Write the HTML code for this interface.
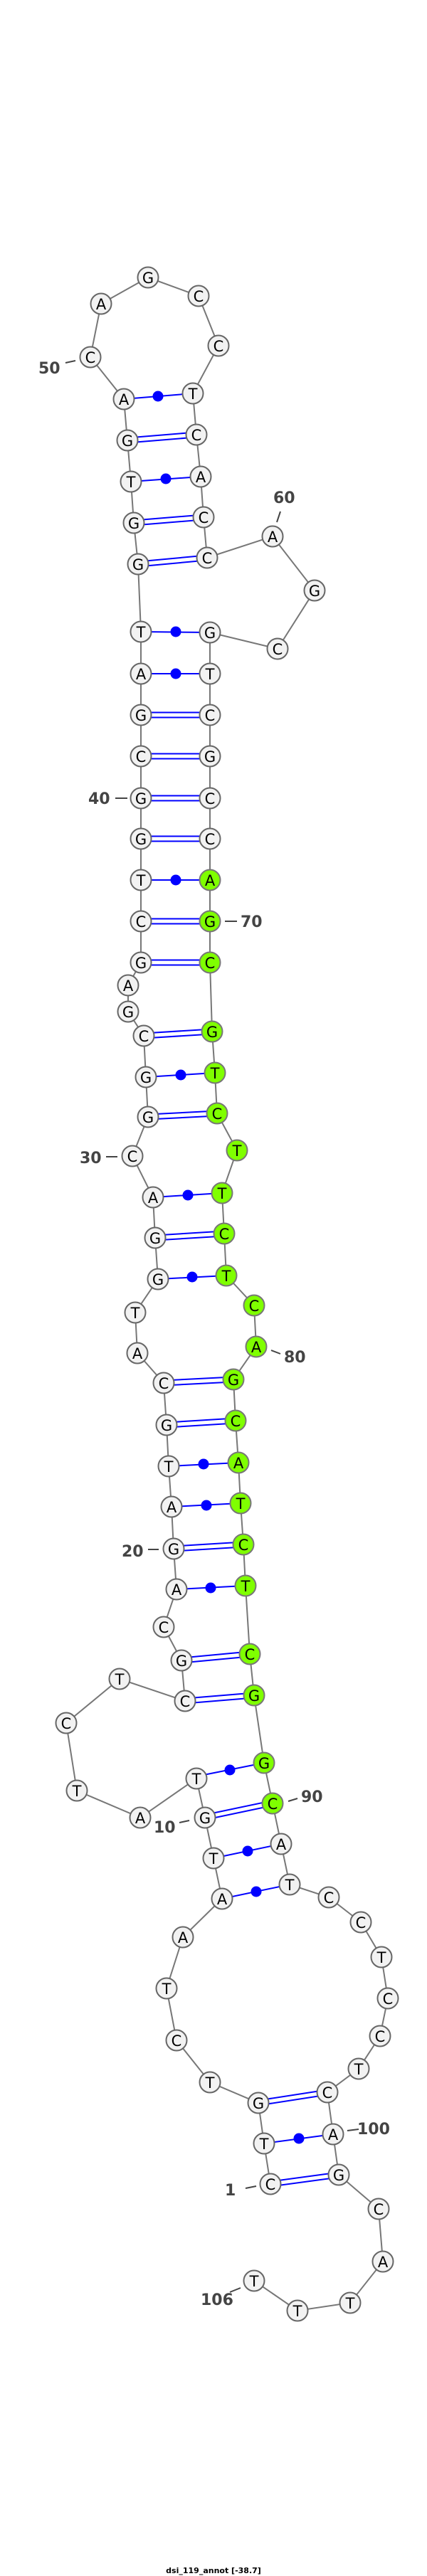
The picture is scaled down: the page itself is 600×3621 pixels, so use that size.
<!DOCTYPE html>
<html><head><meta charset="utf-8"><style>
html,body{margin:0;padding:0;background:#fff}
svg{display:block}
.n{fill:#f2f2f2;stroke:#666;stroke-width:2}
.g{fill:#7fff00;stroke:#777;stroke-width:2}
.t{font-family:"DejaVu Sans","Liberation Sans",sans-serif;font-size:21px;text-anchor:middle;fill:#000}
.l{font-family:"DejaVu Sans","Liberation Sans",sans-serif;font-size:22px;font-weight:bold;fill:#444}
.p{stroke:#0000ff;stroke-width:2;fill:none}
.k{stroke:#444;stroke-width:2}
</style></head><body>
<svg width="600" height="3621" viewBox="0 0 600 3621" xmlns="http://www.w3.org/2000/svg">
<polyline fill="none" stroke="#777" stroke-width="2" points="380,3070 371,3013 363,2956 295,2927 248,2868 234,2795 257,2723 312,2669 300,2612 288,2555 276,2500 197,2555 108,2517 93,2422 168,2360 260,2391 255,2334 230,2287 248,2234 244,2177 241,2118 237,2061 234,2003 230,1944 193,1902 190,1845 222,1798 218,1740 215,1683 186,1625 208,1570 205,1514 202,1456 180,1422 180,1385 198,1353 198,1295 198,1237 198,1179 198,1122 198,1063 198,1005 198,947 198,888 194,793 188,735 184,677 179,619 174,561 127,502 142,427 208,390 279,416 307,486 271,553 276,611 282,670 286,727 291,784 383,754 442,830 390,912 295,889 295,947 295,1005 295,1063 295,1122 295,1179 295,1237 295,1295 295,1353 298,1450 302,1508 305,1565 333,1617 312,1677 315,1734 318,1793 357,1835 360,1893 328,1939 331,1997 335,2056 338,2113 342,2171 345,2229 351,2325 357,2383 371,2478 383,2535 395,2592 407,2649 462,2667 507,2702 536,2751 545,2809 534,2862 504,2908 460,2941 468,3000 476,3057 532,3105 538,3179 492,3237 418,3248 357,3206"/>
<g class="p">
<!-- double pairs -->
<line x1="380" y1="3066.5" x2="476" y2="3053.5"/><line x1="380" y1="3073.5" x2="476" y2="3060.5"/>
<line x1="363" y1="2952.5" x2="460" y2="2937.5"/><line x1="363" y1="2959.5" x2="460" y2="2944.5"/>
<line x1="288" y1="2551" x2="383" y2="2531"/><line x1="288" y1="2558" x2="383" y2="2538"/>
<line x1="260" y1="2387.5" x2="357" y2="2379.5"/><line x1="260" y1="2394.5" x2="357" y2="2386.5"/>
<line x1="255" y1="2330.5" x2="351" y2="2321.5"/><line x1="255" y1="2337.5" x2="351" y2="2328.5"/>
<line x1="244" y1="2173.5" x2="342" y2="2167.5"/><line x1="244" y1="2180.5" x2="342" y2="2174.5"/>
<line x1="234" y1="1999.5" x2="331" y2="1993.5"/><line x1="234" y1="2006.5" x2="331" y2="2000.5"/>
<line x1="230" y1="1940.5" x2="328" y2="1935.5"/><line x1="230" y1="1947.5" x2="328" y2="1942.5"/>
<line x1="218" y1="1736.5" x2="315" y2="1730.5"/><line x1="218" y1="1743.5" x2="315" y2="1737.5"/>
<line x1="208" y1="1566.5" x2="305" y2="1561.5"/><line x1="208" y1="1573.5" x2="305" y2="1568.5"/>
<line x1="202" y1="1452.5" x2="298" y2="1446.5"/><line x1="202" y1="1459.5" x2="298" y2="1453.5"/>
<line x1="198" y1="1349.5" x2="295" y2="1349.5"/><line x1="198" y1="1356.5" x2="295" y2="1356.5"/>
<line x1="198" y1="1291.5" x2="295" y2="1291.5"/><line x1="198" y1="1298.5" x2="295" y2="1298.5"/>
<line x1="198" y1="1175.5" x2="295" y2="1175.5"/><line x1="198" y1="1182.5" x2="295" y2="1182.5"/>
<line x1="198" y1="1118.5" x2="295" y2="1118.5"/><line x1="198" y1="1125.5" x2="295" y2="1125.5"/>
<line x1="198" y1="1059.5" x2="295" y2="1059.5"/><line x1="198" y1="1066.5" x2="295" y2="1066.5"/>
<line x1="198" y1="1001.5" x2="295" y2="1001.5"/><line x1="198" y1="1008.5" x2="295" y2="1008.5"/>
<line x1="194" y1="789.5" x2="291" y2="780.5"/><line x1="194" y1="796.5" x2="291" y2="787.5"/>
<line x1="188" y1="731.5" x2="286" y2="723.5"/><line x1="188" y1="738.5" x2="286" y2="730.5"/>
<line x1="179" y1="615.5" x2="276" y2="607.5"/><line x1="179" y1="622.5" x2="276" y2="614.5"/>
<!-- single pairs -->
<line x1="371" y1="3013" x2="468" y2="3000"/>
<line x1="312" y1="2669" x2="407" y2="2649"/>
<line x1="300" y1="2612" x2="395" y2="2592"/>
<line x1="276" y1="2497" x2="371" y2="2478"/>
<line x1="248" y1="2234" x2="345" y2="2229"/>
<line x1="241" y1="2118" x2="338" y2="2113"/>
<line x1="237" y1="2061" x2="335" y2="2056"/>
<line x1="222" y1="1798" x2="318" y2="1793"/>
<line x1="215" y1="1683" x2="312" y2="1677"/>
<line x1="205" y1="1514" x2="302" y2="1508"/>
<line x1="198" y1="1237" x2="295" y2="1237"/>
<line x1="198" y1="947" x2="295" y2="947"/>
<line x1="198" y1="888" x2="295" y2="889"/>
<line x1="184" y1="677" x2="282" y2="670"/>
<line x1="174" y1="561" x2="271" y2="553"/>
</g>
<g fill="#0000ff">
<circle cx="420" cy="3006" r="7.5"/><circle cx="360" cy="2659" r="7.5"/><circle cx="348" cy="2602" r="7.5"/><circle cx="323" cy="2488" r="7.5"/>
<circle cx="296" cy="2232" r="7.5"/><circle cx="290" cy="2116" r="7.5"/><circle cx="286" cy="2058" r="7.5"/><circle cx="270" cy="1795" r="7.5"/>
<circle cx="264" cy="1680" r="7.5"/><circle cx="254" cy="1511" r="7.5"/><circle cx="247" cy="1237" r="7.5"/><circle cx="247" cy="947" r="7.5"/>
<circle cx="247" cy="888" r="7.5"/><circle cx="233" cy="673" r="7.5"/><circle cx="222" cy="557" r="7.5"/>
</g>
<!-- number labels -->
<g class="k">
<line x1="92" y1="510" x2="106" y2="507"/><line x1="394" y1="719" x2="389" y2="734"/><line x1="162" y1="1122" x2="179" y2="1122"/>
<line x1="316" y1="1295" x2="333" y2="1295"/><line x1="149" y1="1626" x2="165" y2="1626"/><line x1="381" y1="1898" x2="394" y2="1903"/>
<line x1="208" y1="2178" x2="223" y2="2178"/><line x1="252" y1="2562" x2="266" y2="2559"/><line x1="405" y1="2532" x2="418" y2="2528"/>
<line x1="488" y1="2995" x2="504" y2="2993"/><line x1="345" y1="3076" x2="360" y2="3073"/><line x1="323" y1="3222" x2="338" y2="3216"/>
</g>
<g class="l">
<text x="54" y="525">50</text><text x="384" y="707">60</text><text x="124" y="1130">40</text><text x="338" y="1303">70</text>
<text x="112" y="1635">30</text><text x="399" y="1915">80</text><text x="171" y="2188">20</text><text x="216" y="2576">10</text>
<text x="423" y="2533">90</text><text x="502" y="3000">100</text><text x="316" y="3086">1</text><text x="282" y="3240">106</text>
</g>
<!-- nodes -->
<g>
<circle class="n" cx="380" cy="3070" r="14.5"/><text class="t" x="380" y="3078">C</text>
<circle class="n" cx="371" cy="3013" r="14.5"/><text class="t" x="371" y="3021">T</text>
<circle class="n" cx="363" cy="2956" r="14.5"/><text class="t" x="363" y="2964">G</text>
<circle class="n" cx="295" cy="2927" r="14.5"/><text class="t" x="295" y="2935">T</text>
<circle class="n" cx="248" cy="2868" r="14.5"/><text class="t" x="248" y="2876">C</text>
<circle class="n" cx="234" cy="2795" r="14.5"/><text class="t" x="234" y="2803">T</text>
<circle class="n" cx="257" cy="2723" r="14.5"/><text class="t" x="257" y="2731">A</text>
<circle class="n" cx="312" cy="2669" r="14.5"/><text class="t" x="312" y="2677">A</text>
<circle class="n" cx="300" cy="2612" r="14.5"/><text class="t" x="300" y="2620">T</text>
<circle class="n" cx="288" cy="2555" r="14.5"/><text class="t" x="288" y="2563">G</text>
<circle class="n" cx="276" cy="2500" r="14.5"/><text class="t" x="276" y="2508">T</text>
<circle class="n" cx="197" cy="2555" r="14.5"/><text class="t" x="197" y="2563">A</text>
<circle class="n" cx="108" cy="2517" r="14.5"/><text class="t" x="108" y="2525">T</text>
<circle class="n" cx="93" cy="2422" r="14.5"/><text class="t" x="93" y="2430">C</text>
<circle class="n" cx="168" cy="2360" r="14.5"/><text class="t" x="168" y="2368">T</text>
<circle class="n" cx="260" cy="2391" r="14.5"/><text class="t" x="260" y="2399">C</text>
<circle class="n" cx="255" cy="2334" r="14.5"/><text class="t" x="255" y="2342">G</text>
<circle class="n" cx="230" cy="2287" r="14.5"/><text class="t" x="230" y="2295">C</text>
<circle class="n" cx="248" cy="2234" r="14.5"/><text class="t" x="248" y="2242">A</text>
<circle class="n" cx="244" cy="2177" r="14.5"/><text class="t" x="244" y="2185">G</text>
<circle class="n" cx="241" cy="2118" r="14.5"/><text class="t" x="241" y="2126">A</text>
<circle class="n" cx="237" cy="2061" r="14.5"/><text class="t" x="237" y="2069">T</text>
<circle class="n" cx="234" cy="2003" r="14.5"/><text class="t" x="234" y="2011">G</text>
<circle class="n" cx="230" cy="1944" r="14.5"/><text class="t" x="230" y="1952">C</text>
<circle class="n" cx="193" cy="1902" r="14.5"/><text class="t" x="193" y="1910">A</text>
<circle class="n" cx="190" cy="1845" r="14.5"/><text class="t" x="190" y="1853">T</text>
<circle class="n" cx="222" cy="1798" r="14.5"/><text class="t" x="222" y="1806">G</text>
<circle class="n" cx="218" cy="1740" r="14.5"/><text class="t" x="218" y="1748">G</text>
<circle class="n" cx="215" cy="1683" r="14.5"/><text class="t" x="215" y="1691">A</text>
<circle class="n" cx="186" cy="1625" r="14.5"/><text class="t" x="186" y="1633">C</text>
<circle class="n" cx="208" cy="1570" r="14.5"/><text class="t" x="208" y="1578">G</text>
<circle class="n" cx="205" cy="1514" r="14.5"/><text class="t" x="205" y="1522">G</text>
<circle class="n" cx="202" cy="1456" r="14.5"/><text class="t" x="202" y="1464">C</text>
<circle class="n" cx="180" cy="1422" r="14.5"/><text class="t" x="180" y="1430">G</text>
<circle class="n" cx="180" cy="1385" r="14.5"/><text class="t" x="180" y="1393">A</text>
<circle class="n" cx="198" cy="1353" r="14.5"/><text class="t" x="198" y="1361">G</text>
<circle class="n" cx="198" cy="1295" r="14.5"/><text class="t" x="198" y="1303">C</text>
<circle class="n" cx="198" cy="1237" r="14.5"/><text class="t" x="198" y="1245">T</text>
<circle class="n" cx="198" cy="1179" r="14.5"/><text class="t" x="198" y="1187">G</text>
<circle class="n" cx="198" cy="1122" r="14.5"/><text class="t" x="198" y="1130">G</text>
<circle class="n" cx="198" cy="1063" r="14.5"/><text class="t" x="198" y="1071">C</text>
<circle class="n" cx="198" cy="1005" r="14.5"/><text class="t" x="198" y="1013">G</text>
<circle class="n" cx="198" cy="947" r="14.5"/><text class="t" x="198" y="955">A</text>
<circle class="n" cx="198" cy="888" r="14.5"/><text class="t" x="198" y="896">T</text>
<circle class="n" cx="194" cy="793" r="14.5"/><text class="t" x="194" y="801">G</text>
<circle class="n" cx="188" cy="735" r="14.5"/><text class="t" x="188" y="743">G</text>
<circle class="n" cx="184" cy="677" r="14.5"/><text class="t" x="184" y="685">T</text>
<circle class="n" cx="179" cy="619" r="14.5"/><text class="t" x="179" y="627">G</text>
<circle class="n" cx="174" cy="561" r="14.5"/><text class="t" x="174" y="569">A</text>
<circle class="n" cx="127" cy="502" r="14.5"/><text class="t" x="127" y="510">C</text>
<circle class="n" cx="142" cy="427" r="14.5"/><text class="t" x="142" y="435">A</text>
<circle class="n" cx="208" cy="390" r="14.5"/><text class="t" x="208" y="398">G</text>
<circle class="n" cx="279" cy="416" r="14.5"/><text class="t" x="279" y="424">C</text>
<circle class="n" cx="307" cy="486" r="14.5"/><text class="t" x="307" y="494">C</text>
<circle class="n" cx="271" cy="553" r="14.5"/><text class="t" x="271" y="561">T</text>
<circle class="n" cx="276" cy="611" r="14.5"/><text class="t" x="276" y="619">C</text>
<circle class="n" cx="282" cy="670" r="14.5"/><text class="t" x="282" y="678">A</text>
<circle class="n" cx="286" cy="727" r="14.5"/><text class="t" x="286" y="735">C</text>
<circle class="n" cx="291" cy="784" r="14.5"/><text class="t" x="291" y="792">C</text>
<circle class="n" cx="383" cy="754" r="14.5"/><text class="t" x="383" y="762">A</text>
<circle class="n" cx="442" cy="830" r="14.5"/><text class="t" x="442" y="838">G</text>
<circle class="n" cx="390" cy="912" r="14.5"/><text class="t" x="390" y="920">C</text>
<circle class="n" cx="295" cy="889" r="14.5"/><text class="t" x="295" y="897">G</text>
<circle class="n" cx="295" cy="947" r="14.5"/><text class="t" x="295" y="955">T</text>
<circle class="n" cx="295" cy="1005" r="14.5"/><text class="t" x="295" y="1013">C</text>
<circle class="n" cx="295" cy="1063" r="14.5"/><text class="t" x="295" y="1071">G</text>
<circle class="n" cx="295" cy="1122" r="14.5"/><text class="t" x="295" y="1130">C</text>
<circle class="n" cx="295" cy="1179" r="14.5"/><text class="t" x="295" y="1187">C</text>
<circle class="g" cx="295" cy="1237" r="14.5"/><text class="t" x="295" y="1245">A</text>
<circle class="g" cx="295" cy="1295" r="14.5"/><text class="t" x="295" y="1303">G</text>
<circle class="g" cx="295" cy="1353" r="14.5"/><text class="t" x="295" y="1361">C</text>
<circle class="g" cx="298" cy="1450" r="14.5"/><text class="t" x="298" y="1458">G</text>
<circle class="g" cx="302" cy="1508" r="14.5"/><text class="t" x="302" y="1516">T</text>
<circle class="g" cx="305" cy="1565" r="14.5"/><text class="t" x="305" y="1573">C</text>
<circle class="g" cx="333" cy="1617" r="14.5"/><text class="t" x="333" y="1625">T</text>
<circle class="g" cx="312" cy="1677" r="14.5"/><text class="t" x="312" y="1685">T</text>
<circle class="g" cx="315" cy="1734" r="14.5"/><text class="t" x="315" y="1742">C</text>
<circle class="g" cx="318" cy="1793" r="14.5"/><text class="t" x="318" y="1801">T</text>
<circle class="g" cx="357" cy="1835" r="14.5"/><text class="t" x="357" y="1843">C</text>
<circle class="g" cx="360" cy="1893" r="14.5"/><text class="t" x="360" y="1901">A</text>
<circle class="g" cx="328" cy="1939" r="14.5"/><text class="t" x="328" y="1947">G</text>
<circle class="g" cx="331" cy="1997" r="14.5"/><text class="t" x="331" y="2005">C</text>
<circle class="g" cx="335" cy="2056" r="14.5"/><text class="t" x="335" y="2064">A</text>
<circle class="g" cx="338" cy="2113" r="14.5"/><text class="t" x="338" y="2121">T</text>
<circle class="g" cx="342" cy="2171" r="14.5"/><text class="t" x="342" y="2179">C</text>
<circle class="g" cx="345" cy="2229" r="14.5"/><text class="t" x="345" y="2237">T</text>
<circle class="g" cx="351" cy="2325" r="14.5"/><text class="t" x="351" y="2333">C</text>
<circle class="g" cx="357" cy="2383" r="14.5"/><text class="t" x="357" y="2391">G</text>
<circle class="g" cx="371" cy="2478" r="14.5"/><text class="t" x="371" y="2486">G</text>
<circle class="g" cx="383" cy="2535" r="14.5"/><text class="t" x="383" y="2543">C</text>
<circle class="n" cx="395" cy="2592" r="14.5"/><text class="t" x="395" y="2600">A</text>
<circle class="n" cx="407" cy="2649" r="14.5"/><text class="t" x="407" y="2657">T</text>
<circle class="n" cx="462" cy="2667" r="14.5"/><text class="t" x="462" y="2675">C</text>
<circle class="n" cx="507" cy="2702" r="14.5"/><text class="t" x="507" y="2710">C</text>
<circle class="n" cx="536" cy="2751" r="14.5"/><text class="t" x="536" y="2759">T</text>
<circle class="n" cx="545" cy="2809" r="14.5"/><text class="t" x="545" y="2817">C</text>
<circle class="n" cx="534" cy="2862" r="14.5"/><text class="t" x="534" y="2870">C</text>
<circle class="n" cx="504" cy="2908" r="14.5"/><text class="t" x="504" y="2916">T</text>
<circle class="n" cx="460" cy="2941" r="14.5"/><text class="t" x="460" y="2949">C</text>
<circle class="n" cx="468" cy="3000" r="14.5"/><text class="t" x="468" y="3008">A</text>
<circle class="n" cx="476" cy="3057" r="14.5"/><text class="t" x="476" y="3065">G</text>
<circle class="n" cx="532" cy="3105" r="14.5"/><text class="t" x="532" y="3113">C</text>
<circle class="n" cx="538" cy="3179" r="14.5"/><text class="t" x="538" y="3187">A</text>
<circle class="n" cx="492" cy="3237" r="14.5"/><text class="t" x="492" y="3245">T</text>
<circle class="n" cx="418" cy="3248" r="14.5"/><text class="t" x="418" y="3256">T</text>
<circle class="n" cx="357" cy="3206" r="14.5"/><text class="t" x="357" y="3214">T</text>
</g>
<text x="300" y="3617" text-anchor="middle" font-family="DejaVu Sans, Liberation Sans, sans-serif" font-size="11" font-weight="bold" fill="#000">dsi_119_annot [-38.7]</text>
</svg>
</body></html>
